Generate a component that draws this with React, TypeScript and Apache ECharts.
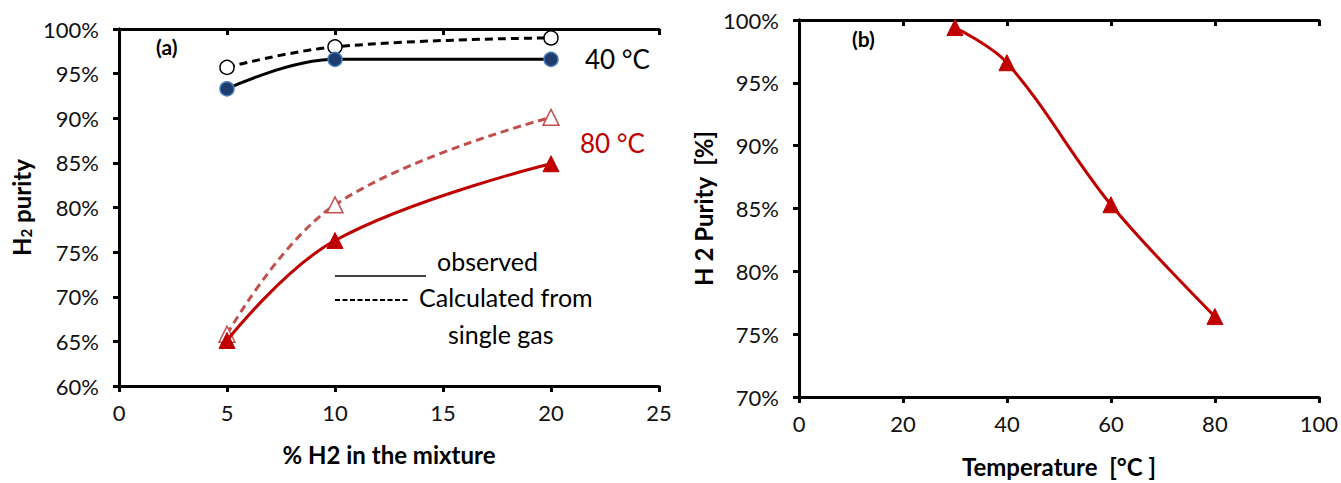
import React, { useEffect, useRef } from "react";
import * as echarts from "echarts";

const conc = [5, 10, 20];
const obs40 = [93.3, 96.6, 96.6];
const calc40 = [95.7, 98.0, 99.0];
const obs80 = [65.1, 76.3, 84.9];
const calc80 = [65.8, 80.3, 90.1];

const temps = [30, 40, 60, 80];
const purityT = [99.4, 96.6, 85.3, 76.4];

const FONT = "Lato";

const pairs = (xs: number[], ys: number[]) => xs.map((x, i) => [x, ys[i]]);

export default function App() {
  const ref = useRef<HTMLDivElement>(null);
  useEffect(() => {
    const chart = echarts.init(ref.current!, null, { renderer: "svg" });
    const axisLine = { show: true, lineStyle: { color: "#000", width: 3 } };
    const tickOut = { show: true, length: 6, lineStyle: { color: "#000", width: 3 } };
    const tickIn = { show: true, inside: true, length: 6, lineStyle: { color: "#000", width: 3 } };
    const lbl = { color: "#111", fontFamily: FONT, fontSize: 22 };
    const titleStyle = { fontFamily: FONT, fontSize: 24, fontWeight: "bold", color: "#000" };
    const xBase = (grid: number, min: number, max: number, interval: number) => ({
      type: "value",
      gridIndex: grid,
      min,
      max,
      interval,
      splitLine: { show: false },
      axisLine,
    });
    const yBase = (grid: number, min: number, max: number) => ({
      type: "value",
      gridIndex: grid,
      min,
      max,
      interval: 5,
      splitLine: { show: false },
      axisLine,
    });
    chart.setOption({
      animation: false,
      backgroundColor: "#fff",
      grid: [
        { left: 119, right: 682, top: 29, bottom: 97 },
        { left: 799, right: 21, top: 20, bottom: 78 },
      ],
      xAxis: [
        {
          ...xBase(0, 0, 25, 5),
          axisTick: tickOut,
          axisLabel: { ...lbl, margin: 15 },
          name: "% H2 in the mixture",
          nameLocation: "middle",
          nameGap: 56,
          nameTextStyle: titleStyle,
        },
        {
          ...xBase(1, 0, 100, 20),
          axisTick: tickOut,
          axisLabel: { ...lbl, margin: 15 },
          name: "Temperature  [°C ]",
          nameLocation: "middle",
          nameGap: 57,
          nameTextStyle: titleStyle,
        },
        { ...xBase(0, 0, 25, 5), axisTick: tickIn, axisLabel: { show: false } },
        { ...xBase(1, 0, 100, 20), axisTick: tickIn, axisLabel: { show: false } },
      ],
      yAxis: [
        {
          ...yBase(0, 60, 100),
          axisTick: tickOut,
          axisLabel: { ...lbl, margin: 20, formatter: (v: number) => v + "%" },
          name: "H{sub|2} purity",
          nameLocation: "middle",
          nameGap: 86,
          nameRotate: 90,
          nameTextStyle: {
            ...titleStyle,
            rich: {
              sub: { fontFamily: FONT, fontSize: 15, fontWeight: "bold", color: "#000", verticalAlign: "bottom", padding: [8, 0, 0, 0] },
            },
          },
        },
        {
          ...yBase(1, 70, 100),
          axisTick: tickOut,
          axisLabel: { ...lbl, margin: 20, formatter: (v: number) => v + "%" },
          name: "H 2 Purity  [%]",
          nameLocation: "middle",
          nameGap: 84,
          nameRotate: 90,
          nameTextStyle: titleStyle,
        },
        { ...yBase(0, 60, 100), axisTick: tickIn, axisLabel: { show: false } },
        { ...yBase(1, 70, 100), axisTick: tickIn, axisLabel: { show: false } },
      ],
      series: [
        {
          type: "line",
          xAxisIndex: 0,
          yAxisIndex: 0,
          data: pairs(conc, calc40),
          smooth: 0.4,
          symbol: "circle",
          symbolSize: 14,
          lineStyle: { color: "#000", width: 3, type: [8, 5] },
          itemStyle: { color: "#fff", borderColor: "#000", borderWidth: 1.5 },
          z: 3,
        },
        {
          type: "line",
          xAxisIndex: 0,
          yAxisIndex: 0,
          data: pairs(conc, obs40),
          smooth: 0.4,
          symbol: "circle",
          symbolSize: 14,
          lineStyle: { color: "#000", width: 3 },
          itemStyle: { color: "#1f3c6e", borderColor: "#4a7ebb", borderWidth: 1.5 },
          z: 4,
        },
        {
          type: "line",
          xAxisIndex: 0,
          yAxisIndex: 0,
          data: pairs(conc, calc80),
          smooth: 0.4,
          symbol: "triangle",
          symbolSize: 16,
          lineStyle: { color: "#c0504d", width: 3, type: [8, 5] },
          itemStyle: { color: "#fff", borderColor: "#c0504d", borderWidth: 1.5 },
          z: 3,
        },
        {
          type: "line",
          xAxisIndex: 0,
          yAxisIndex: 0,
          data: pairs(conc, obs80),
          smooth: 0.4,
          symbol: "triangle",
          symbolSize: 16,
          lineStyle: { color: "#c00000", width: 3 },
          itemStyle: { color: "#c00000", borderColor: "#c00000", borderWidth: 1 },
          z: 4,
        },
        {
          type: "line",
          xAxisIndex: 1,
          yAxisIndex: 1,
          data: pairs(temps, purityT),
          smooth: 0.35,
          symbol: "triangle",
          symbolSize: 16,
          lineStyle: { color: "#c00000", width: 3 },
          itemStyle: { color: "#c00000", borderColor: "#c00000", borderWidth: 1 },
        },
      ],
      graphic: [
        { type: "text", left: 156, top: 36, style: { text: "(a)", fontFamily: FONT, fontSize: 21, fontWeight: "bold", fill: "#000" } },
        { type: "text", left: 852, top: 28, style: { text: "(b)", fontFamily: FONT, fontSize: 21, fontWeight: "bold", fill: "#000" } },
        { type: "text", left: 585, top: 46, style: { text: "40 °C", fontFamily: FONT, fontSize: 26, fill: "#000" } },
        { type: "text", left: 580, top: 130, style: { text: "80 °C", fontFamily: FONT, fontSize: 26, fill: "#c00000" } },
        { type: "line", shape: { x1: 335, y1: 276, x2: 426, y2: 276 }, style: { stroke: "#000", lineWidth: 1.5 } },
        { type: "text", left: 437, top: 248, style: { text: "observed", fontFamily: FONT, fontSize: 25, fill: "#000" } },
        { type: "line", shape: { x1: 335, y1: 300, x2: 410, y2: 300 }, style: { stroke: "#000", lineWidth: 2, lineDash: [5, 2.5] } },
        { type: "text", left: 419, top: 284, style: { text: "Calculated from", fontFamily: FONT, fontSize: 25, fill: "#000" } },
        { type: "text", left: 448, top: 321, style: { text: "single gas", fontFamily: FONT, fontSize: 25, fill: "#000" } },
      ],
    });
    return () => chart.dispose();
  }, []);
  return <div ref={ref} style={{ position: "absolute", left: 0, top: 0, width: 1341, height: 483 }} />;
}
